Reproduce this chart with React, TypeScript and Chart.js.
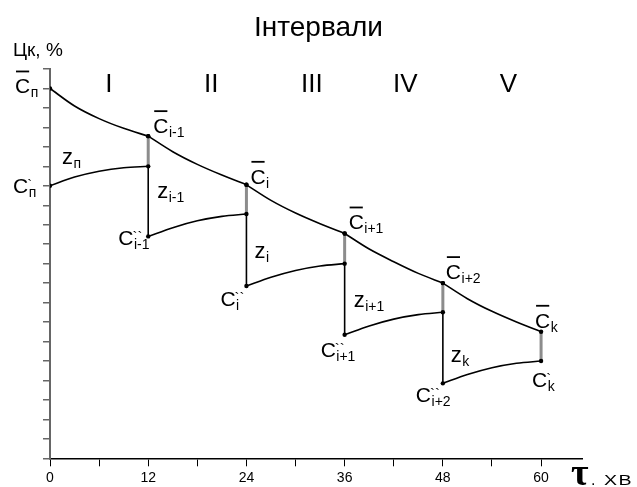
import { useEffect, useRef } from 'react';
import { Chart, registerables } from 'chart.js';

Chart.register(...registerables);

// ---- data ----
const TITLE = 'Інтервали';
const Y_TITLE = 'Цк, %';
const X_TITLE_SYMBOL = 'τ';
const X_TITLE_UNIT = 'ХВ';
const X_MAX = 65;
const Y_MAX = 20;

// time points of each interval segment (min)
const SEG_X = [
  [0, 3, 6, 9, 12],
  [12, 15, 18, 21, 24],
  [24, 27, 30, 33, 36],
  [36, 39, 42, 45, 48],
  [48, 51, 54, 57, 60],
];
// upper curve (C bar) per interval
const UPPER = [
  [19.0, 18.1, 17.45, 16.95, 16.55],
  [16.55, 15.75, 15.1, 14.55, 14.05],
  [14.05, 13.25, 12.6, 12.05, 11.55],
  [11.55, 10.75, 10.1, 9.5, 9.0],
  [9.0, 8.2, 7.55, 7.0, 6.5],
];
// lower curve (C', C'') per interval
const LOWER = [
  [14.0, 14.45, 14.75, 14.93, 15.0],
  [11.4, 11.85, 12.2, 12.43, 12.55],
  [8.85, 9.3, 9.65, 9.88, 10.0],
  [6.35, 6.8, 7.15, 7.38, 7.5],
  [3.85, 4.3, 4.65, 4.88, 5.0],
];

const ROMAN = ['I', 'II', 'III', 'IV', 'V'];
const ROMAN_X = [7.2, 19.7, 32.0, 43.4, 56.0];
const ROMAN_Y = 18.8;

const UPPER_SUBS = ['п', 'i-1', 'i', 'i+1', 'i+2', 'k'];
const LOWER_SUBS = ['п', 'i-1', 'i', 'i+1', 'i+2', 'k'];
const LOWER_MARKS = ['prime', 'dprime', 'dprime', 'dprime', 'dprime', 'prime'];
const Z_SUBS = ['п', 'i-1', 'i', 'i+1', 'k'];

// ---- layout (pixel offsets of labels from their anchor points) ----
const UPPER_OFF = [[-35, 5], [5, -3], [4, -1], [4, -4], [3, -4], [-6, -4]];
const LOWER_OFF = [[-37, 7], [-30, 9], [-26, 20], [-24, 22], [-27, 19], [-9, 26]];
const Z_OFF = [[12, -22], [9, -38], [8, -28], [9, -28], [8, -21]];

const FONT = '"Liberation Sans", Arial, Helvetica, sans-serif';

function drawSymbol(ctx: CanvasRenderingContext2D, main: string, sub: string, mark: string, px: number, py: number, size: number) {
  ctx.textAlign = 'left';
  ctx.font = `${size}px ${FONT}`;
  ctx.fillText(main, px, py);
  const w = ctx.measureText(main).width;
  if (mark === 'bar') {
    ctx.beginPath();
    ctx.lineWidth = 1.8;
    ctx.moveTo(px + 1, py - 22);
    ctx.lineTo(px + w - 1, py - 22);
    ctx.stroke();
  }
  if (mark === 'prime' || mark === 'dprime') {
    ctx.font = `15px ${FONT}`;
    ctx.fillText(mark === 'prime' ? '`' : '``', px + w - 1, py - 3);
  }
  ctx.font = `14px ${FONT}`;
  ctx.fillText(sub, px + w + 0.5, py + 4);
}

const annotPlugin = {
  id: 'annot',
  afterDatasetsDraw(chart: any) {
    const { ctx } = chart;
    const xs = chart.scales.x;
    const ys = chart.scales.y;
    ctx.save();
    ctx.fillStyle = '#000';
    ctx.strokeStyle = '#000';
    ctx.textBaseline = 'alphabetic';

    // title
    ctx.textAlign = 'center';
    ctx.font = `28px ${FONT}`;
    ctx.fillText(TITLE, chart.width / 2, 36);

    // interval numerals
    ctx.font = `26px ${FONT}`;
    ROMAN.forEach((r, i) => {
      ctx.fillText(r, xs.getPixelForValue(ROMAN_X[i]), ys.getPixelForValue(ROMAN_Y));
    });

    // axis titles
    ctx.textAlign = 'left';
    ctx.font = `19px ${FONT}`;
    ctx.fillText(Y_TITLE, 13, 56);
    ctx.font = `bold 38px "Liberation Serif", "DejaVu Serif", serif`;
    ctx.fillText(X_TITLE_SYMBOL, 571, 485);
    ctx.font = `16px ${FONT}`;
    ctx.fillText('.', 591, 485);
    ctx.save();
    ctx.translate(604, 485);
    ctx.scale(1.4, 1);
    ctx.font = `14px ${FONT}`;
    (ctx as any).letterSpacing = '1px';
    ctx.fillText(X_TITLE_UNIT, 0, 0);
    (ctx as any).letterSpacing = '0px';
    ctx.restore();

    // upper labels (C bar)
    const upperNodes = [UPPER[0][0], ...UPPER.map((s) => s[s.length - 1])];
    const nodeX = [SEG_X[0][0], ...SEG_X.map((s) => s[s.length - 1])];
    upperNodes.forEach((v, i) => {
      const px = xs.getPixelForValue(nodeX[i]) + UPPER_OFF[i][0];
      const py = ys.getPixelForValue(v) + UPPER_OFF[i][1];
      drawSymbol(ctx, 'C', UPPER_SUBS[i], 'bar', px, py, 21);
    });

    // lower labels (C', C'')
    const lowerNodes = [...LOWER.map((s) => s[0]), LOWER[LOWER.length - 1][4]];
    lowerNodes.forEach((v, i) => {
      const px = xs.getPixelForValue(nodeX[i]) + LOWER_OFF[i][0];
      const py = ys.getPixelForValue(v) + LOWER_OFF[i][1];
      drawSymbol(ctx, 'C', LOWER_SUBS[i], LOWER_MARKS[i], px, py, 21);
    });

    // z labels
    Z_SUBS.forEach((s, i) => {
      const px = xs.getPixelForValue(SEG_X[i][0]) + Z_OFF[i][0];
      const py = ys.getPixelForValue(LOWER[i][0]) + Z_OFF[i][1];
      drawSymbol(ctx, 'z', s, 'none', px, py, 22);
    });

    ctx.restore();
  },
};

export default function App() {
  const ref = useRef<HTMLCanvasElement | null>(null);

  useEffect(() => {
    if (!ref.current) return;
    const endDot = (c: any) => (c.dataIndex === 0 || c.dataIndex === 4 ? 2.2 : 0);
    const datasets: any[] = [];
    SEG_X.forEach((xsArr, k) => {
      datasets.push({
        data: xsArr.map((x, i) => ({ x, y: UPPER[k][i] })),
        borderColor: '#000',
        borderWidth: 1.6,
        cubicInterpolationMode: 'monotone',
        pointRadius: endDot,
        pointBackgroundColor: '#000',
        pointBorderWidth: 0,
      });
      datasets.push({
        data: xsArr.map((x, i) => ({ x, y: LOWER[k][i] })),
        borderColor: '#000',
        borderWidth: 1.6,
        cubicInterpolationMode: 'monotone',
        pointRadius: endDot,
        pointBackgroundColor: '#000',
        pointBorderWidth: 0,
      });
    });
    // black drops from lower end to next interval start
    for (let k = 0; k < SEG_X.length - 1; k++) {
      const xv = SEG_X[k][4];
      datasets.push({
        data: [{ x: xv, y: LOWER[k][4] }, { x: xv, y: LOWER[k + 1][0] }],
        borderColor: '#000',
        borderWidth: 1.6,
        pointRadius: 0,
      });
    }
    // gray links from upper end to lower end
    for (let k = 0; k < SEG_X.length; k++) {
      const xv = SEG_X[k][4];
      datasets.push({
        data: [{ x: xv, y: UPPER[k][4] }, { x: xv, y: LOWER[k][4] }],
        borderColor: '#8c8c8c',
        borderWidth: 3,
        pointRadius: 0,
      });
    }

    const chart = new Chart(ref.current, {
      type: 'line',
      data: { datasets },
      options: {
        animation: false,
        responsive: false,
        devicePixelRatio: 1,
        layout: { padding: { top: 69, right: 55, left: 0, bottom: 0 } },
        plugins: { legend: { display: false }, tooltip: { enabled: false }, title: { display: false } },
        scales: {
          x: {
            type: 'linear',
            min: 0,
            max: X_MAX,
            afterFit: (s: any) => {
              s.height = 28.7;
            },
            border: { color: '#000', width: 1.5 },
            grid: { drawOnChartArea: false, tickLength: 8, color: '#000', lineWidth: 1 },
            ticks: {
              stepSize: 6,
              includeBounds: false,
              autoSkip: false,
              maxRotation: 0,
              padding: 3,
              color: '#000',
              font: { size: 14, family: FONT },
              callback: (v: any) => (Number(v) % 12 === 0 ? String(v) : ''),
            },
          },
          y: {
            type: 'linear',
            min: 0,
            max: Y_MAX,
            afterFit: (s: any) => {
              s.width = 50;
            },
            border: { color: '#666', width: 2 },
            grid: { drawOnChartArea: false, tickLength: 7, color: '#666', lineWidth: 1.5 },
            ticks: { stepSize: 1, display: false },
          },
        },
      },
      plugins: [annotPlugin],
    });
    return () => chart.destroy();
  }, []);

  return (
    <div style={{ position: 'absolute', left: 0, top: 0, width: 637, height: 487, background: '#fff' }}>
      <canvas ref={ref} width={637} height={487} />
    </div>
  );
}
